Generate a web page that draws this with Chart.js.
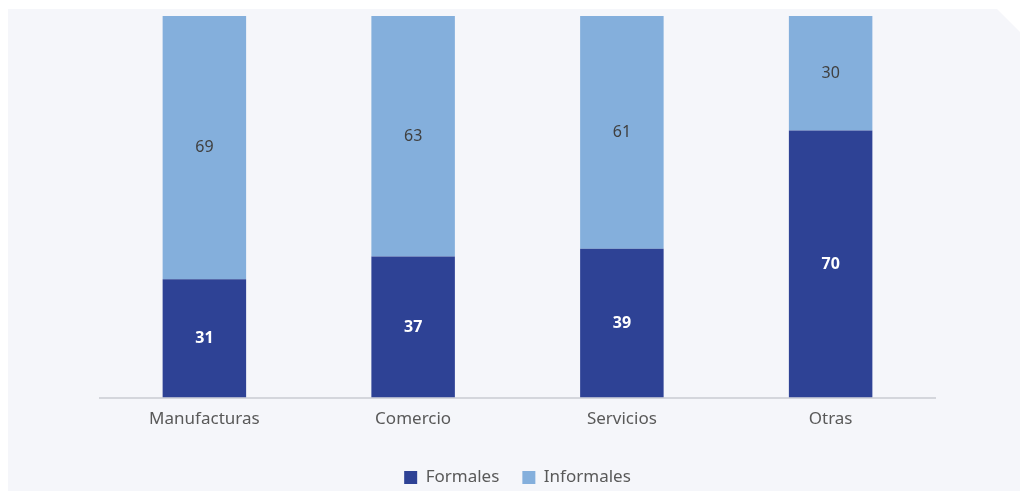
<!DOCTYPE html>
<html>
<head>
<meta charset="utf-8">
<script src="https://cdn.jsdelivr.net/npm/chart.js@4"></script>
<style>
  html, body { margin: 0; padding: 0; background: #ffffff; }
  #wrap { position: relative; width: 1020px; height: 493px; }
  #panel {
    position: absolute; left: 8px; top: 9px; width: 1012px; height: 482px;
    background: #f5f6fa;
    clip-path: polygon(0 0, 989px 0, 1012px 23px, 1012px 100%, 0 100%);
  }
  #c { position: absolute; left: 0; top: 0; }
</style>
</head>
<body>
<div id="wrap">
  <div id="panel"></div>
  <canvas id="c" width="1020" height="493"></canvas>
</div>
<script>
const categories = ['Manufacturas', 'Comercio', 'Servicios', 'Otras'];
const formales = [31, 37, 39, 70];
const informales = [69, 63, 61, 30];

// etiquetas dentro de cada barra
const barLabels = {
  id: 'barLabels',
  afterDatasetsDraw(chart) {
    const ctx = chart.ctx;
    chart.data.datasets.forEach(function (ds, i) {
      const meta = chart.getDatasetMeta(i);
      meta.data.forEach(function (bar, j) {
        const mid = (bar.y + bar.base) / 2;
        ctx.save();
        ctx.font = (i === 0 ? 'bold ' : '') + '16px "Noto Sans"';
        ctx.fillStyle = i === 0 ? '#ffffff' : '#404040';
        ctx.textAlign = 'center';
        ctx.textBaseline = 'middle';
        ctx.fillText(ds.data[j], bar.x, mid);
        ctx.restore();
      });
    });
  }
};

// baja un poco la leyenda
const legendShift = {
  id: 'legendShift',
  afterLayout(chart) {
    chart.legend.top += 7;
    chart.legend.bottom += 7;
  }
};

new Chart(document.getElementById('c'), {
  type: 'bar',
  data: {
    labels: categories,
    datasets: [
      { label: 'Formales', data: formales, backgroundColor: '#2e4295', barPercentage: 0.4, categoryPercentage: 1 },
      { label: 'Informales', data: informales, backgroundColor: '#84afdc', barPercentage: 0.4, categoryPercentage: 1 }
    ]
  },
  options: {
    responsive: false,
    animation: false,
    layout: { padding: { left: 100, right: 85, top: 16, bottom: 4 } },
    scales: {
      x: {
        stacked: true,
        grid: { display: false },
        border: { display: true, color: '#d4d6dc', width: 2 },
        ticks: { color: '#595959', font: { family: 'Noto Sans', size: 17 }, padding: 3 },
        afterFit: function (scale) { scale.height += 7; }
      },
      y: { stacked: true, display: false, min: 0, max: 100 }
    },
    plugins: {
      legend: {
        position: 'bottom',
        labels: {
          color: '#595959',
          font: { family: 'Noto Sans', size: 17 },
          boxWidth: 13, boxHeight: 13, padding: 23
        }
      },
      tooltip: { enabled: false }
    }
  },
  plugins: [barLabels, legendShift]
});
</script>
</body>
</html>
